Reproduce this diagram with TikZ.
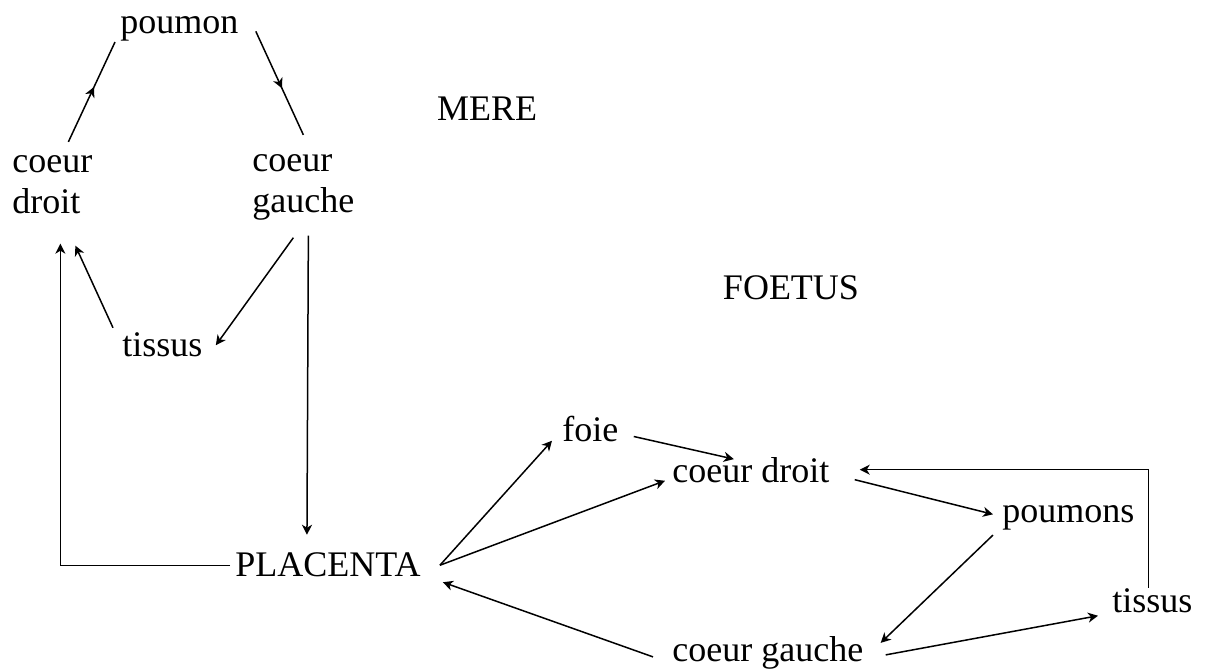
\documentclass[tikz,border=0pt]{standalone}
\usepackage{fontspec}
\setmainfont{Liberation Serif}
\usetikzlibrary{arrows.meta,calc,decorations.markings}
\begin{document}
\begin{tikzpicture}[x=0.5pt,y=-0.5pt,
  lbl/.style={inner sep=0pt, anchor=base west, font=\fontsize{18pt}{20.5pt}\selectfont},
  ttl/.style={inner sep=0pt, anchor=base, font=\fontsize{18pt}{20.5pt}\selectfont},
  tip/.tip={Stealth[length=5pt,width=5pt,inset=1.5pt]},
  conn/.style={line width=0.75pt, -tip},
  midarrow/.style={line width=0.75pt, decoration={markings, mark=at position 0.55 with {\arrow{tip}}}, postaction={decorate}}
]
\useasboundingbox (0,0) rectangle (1207,672);

% mother
\node[lbl] (poumon) at (120,34) {poumon};
\node[lbl] (cdM) at (12,173) {\begin{tabular}[t]{@{}l@{}}coeur\\droit\end{tabular}};
\node[lbl] (cgM) at (252,172) {\begin{tabular}[t]{@{}l@{}}coeur\\gauche\end{tabular}};
\node[ttl] (mere) at (487,121) {MERE};
\node[lbl] (tissusM) at (122,357) {tissus};
\node[lbl] (PLA) at (235,577) {PLACENTA};

% foetus
\node[ttl] (foetus) at (791,300) {FOETUS};
\node[lbl] (foie) at (562,442) {foie};
\node[lbl] (cdF) at (672,483) {coeur droit};
\node[lbl] (poumons) at (1002,523) {poumons};
\node[lbl] (tissusF) at (1112,613) {tissus};
\node[lbl] (cgF) at (672,662) {coeur gauche};

% mother connectors
\draw[midarrow] ($(cdM.north)+(16,-2)$) -- ($(poumon.south west)+(-5,0)$);
\draw[midarrow] ($(poumon.east)+(17,2)$) -- ($(cgM.north)+(0,-8)$);
\draw[conn] ($(cgM.south)+(-10,12)$) -- ($(tissusM.east)+(13,0)$);
\draw[conn] ($(tissusM.north west)+(-9,-5)$) -- ($(cdM.south)+(23,19)$);
\draw[conn] ($(cgM.south)+(5,10)$) -- ($(PLA.north)+(-21,-18)$);
\draw[conn] ($(PLA.west)+(-5,0)$) -| ($(cdM.south)+(8,17)$);

% foetus connectors
\draw[conn] ($(PLA.east)+(19,0)$) -- ($(foie.south west)+(-10,-2)$);
\draw[conn] ($(PLA.east)+(19,0)$) -- ($(cdF.south west)+(-7,-3)$);
\draw[conn] ($(foie.east)+(15,7)$) -- ($(cdF.north)+(-17,1.5)$);
\draw[conn] ($(tissusF.north)+(-4,-1)$) |- ($(cdF.east)+(30,-1)$);
\draw[conn] ($(cdF.east)+(25,9)$) -- ($(poumons.west)+(-9,-4)$);
\draw[conn] ($(poumons.south west)+(-9,4)$) -- ($(cgF.east)+(17,-10.5)$);
\draw[conn] ($(cgF.east)+(22,1.5)$) -- ($(tissusF.south west)+(-14,2)$);
\draw[conn] ($(cgF.west)+(-19,3.5)$) -- ($(PLA.east)+(22,17)$);
\end{tikzpicture}
\end{document}
